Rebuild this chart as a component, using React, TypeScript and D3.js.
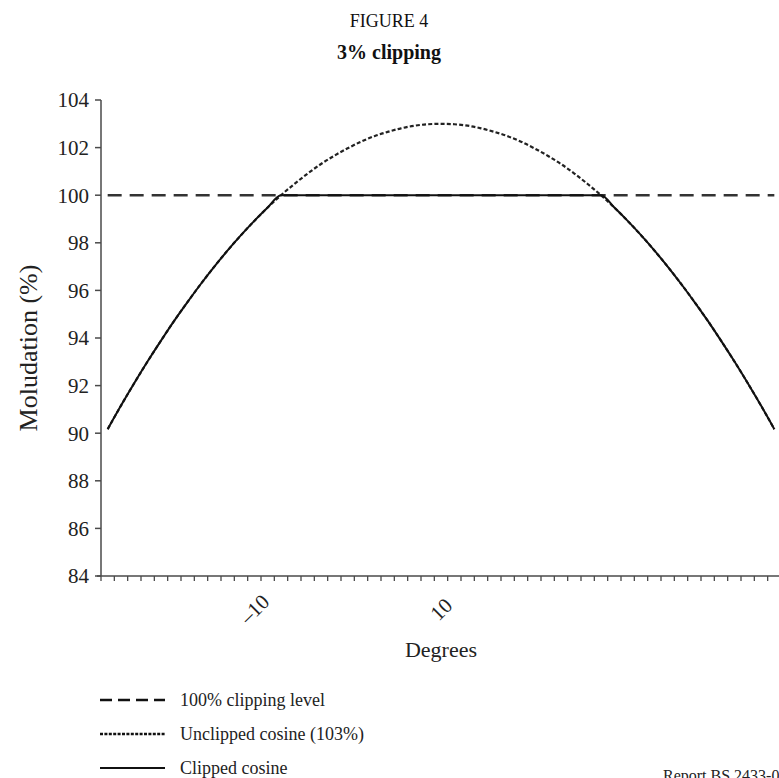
import React from "react";
import * as d3 from "d3";

const categories = [
  -25, -24, -23, -22, -21, -20, -19, -18, -17, -16, -15, -14, -13, -12, -11, -10, -9, -8, -7, -6, -5, -4, -3, -2, -1,
  0, 1, 2, 3, 4, 5, 6, 7, 8, 9, 10, 11, 12, 13, 14, 15, 16, 17, 18, 19, 20, 21, 22, 23, 24, 25,
];

const unclipped = [
  90.17, 91.16, 92.11, 93.02, 93.89, 94.73, 95.52, 96.28, 97.0, 97.68, 98.32, 98.92, 99.48, 100.0, 100.47, 100.91,
  101.31, 101.66, 101.97, 102.25, 102.48, 102.66, 102.81, 102.92, 102.98, 103.0, 102.98, 102.92, 102.81, 102.66,
  102.48, 102.25, 101.97, 101.66, 101.31, 100.91, 100.47, 100.0, 99.48, 98.92, 98.32, 97.68, 97.0, 96.28, 95.52,
  94.73, 93.89, 93.02, 92.11, 91.16, 90.17,
];

const clipped = [
  90.17, 91.16, 92.11, 93.02, 93.89, 94.73, 95.52, 96.28, 97.0, 97.68, 98.32, 98.92, 99.48, 100.0, 100.0, 100.0,
  100.0, 100.0, 100.0, 100.0, 100.0, 100.0, 100.0, 100.0, 100.0, 100.0, 100.0, 100.0, 100.0, 100.0, 100.0, 100.0,
  100.0, 100.0, 100.0, 100.0, 100.0, 100.0, 99.48, 98.92, 98.32, 97.68, 97.0, 96.28, 95.52, 94.73, 93.89, 93.02,
  92.11, 91.16, 90.17,
];

const clipLevel = 100;
const yTicks = [84, 86, 88, 90, 92, 94, 96, 98, 100, 102, 104];
// tick labels as printed, with the category under which each one appears
const xTickLabels = ["–10", "10"];
const xTickLabelAt = [-14, 0];

const legendItems = [
  { label: "100% clipping level", dash: "12,6", width: 2.4 },
  { label: "Unclipped cosine (103%)", dash: "3,1.4", width: 2.4 },
  { label: "Clipped cosine", dash: "", width: 2 },
];

const FONT = "'Liberation Serif', 'Times New Roman', serif";

export default function App() {
  const W = 779;
  const H = 778;
  const left = 101;
  const top = 100;
  const bottom = 576;

  const x = d3.scaleBand<number>().domain(categories).range([left, 781]).padding(0);
  const bw = x.bandwidth();
  const cx = (c: number) => (x(c) as number) + bw / 2;
  const y = d3.scaleLinear().domain([84, 104]).range([bottom, top]);

  const line = d3
    .line<number>()
    .x((_, i) => cx(categories[i]))
    .y((v) => y(v))
    .curve(d3.curveMonotoneX);

  const axisColor = "#4a4a4a";

  return (
    <svg
      width={W}
      height={H}
      style={{ position: "absolute", left: 0, top: 0, background: "#fff" }}
      fontFamily={FONT}
    >
      <rect x={0} y={0} width={W} height={H} fill="#fff" />
      <text x={389} y={27} textAnchor="middle" fontSize={18} fill="#111">
        FIGURE 4
      </text>
      <text x={389} y={59} textAnchor="middle" fontSize={20} fontWeight="bold" fill="#111">
        3% clipping
      </text>

      {/* y axis */}
      <line x1={left} x2={left} y1={top} y2={bottom} stroke={axisColor} strokeWidth={1.5} />
      {yTicks.map((t) => (
        <g key={t}>
          <line x1={left - 6} x2={left} y1={y(t)} y2={y(t)} stroke={axisColor} strokeWidth={1.5} />
          <text x={89} y={y(t)} dy="0.35em" textAnchor="end" fontSize={21} fill="#222">
            {t}
          </text>
        </g>
      ))}
      <text
        transform={`translate(28,348) rotate(-90)`}
        textAnchor="middle"
        dy="0.35em"
        fontSize={26}
        fill="#222"
      >
        Moludation (%)
      </text>

      {/* x axis */}
      <line x1={left - 4} x2={W} y1={bottom} y2={bottom} stroke={axisColor} strokeWidth={1.5} />
      {categories.map((c) => (
        <line
          key={c}
          x1={x(c) as number}
          x2={x(c) as number}
          y1={bottom}
          y2={bottom + 5}
          stroke={axisColor}
          strokeWidth={1.3}
        />
      ))}
      {xTickLabels.map((t, i) => (
        <text
          key={t}
          transform={`translate(${cx(xTickLabelAt[i])},${bottom + 33}) rotate(-45)`}
          textAnchor="middle"
          dy="0.35em"
          fontSize={21}
          fill="#222"
        >
          {t}
        </text>
      ))}
      <text x={441} y={657} textAnchor="middle" fontSize={22} fill="#222">
        Degrees
      </text>

      {/* series */}
      <line
        x1={cx(categories[0])}
        x2={cx(categories[categories.length - 1])}
        y1={y(clipLevel)}
        y2={y(clipLevel)}
        stroke="#333"
        strokeWidth={2.6}
        strokeDasharray="14,8"
      />
      <path d={line(unclipped) || ""} fill="none" stroke="#222" strokeWidth={2.2} strokeDasharray="4,2.2" />
      <path d={line(clipped) || ""} fill="none" stroke="#111" strokeWidth={2} />

      {/* legend */}
      {legendItems.map((it, i) => {
        const ly = 700 + i * 34;
        return (
          <g key={it.label}>
            <line
              x1={100}
              x2={165}
              y1={ly}
              y2={ly}
              stroke="#111"
              strokeWidth={it.width}
              strokeDasharray={it.dash || undefined}
            />
            <text x={180} y={ly} dy="0.33em" fontSize={18} fill="#222">
              {it.label}
            </text>
          </g>
        );
      })}
      <text x={663} y={781} fontSize={16} fill="#222">
        Report BS.2433-0
      </text>
    </svg>
  );
}
